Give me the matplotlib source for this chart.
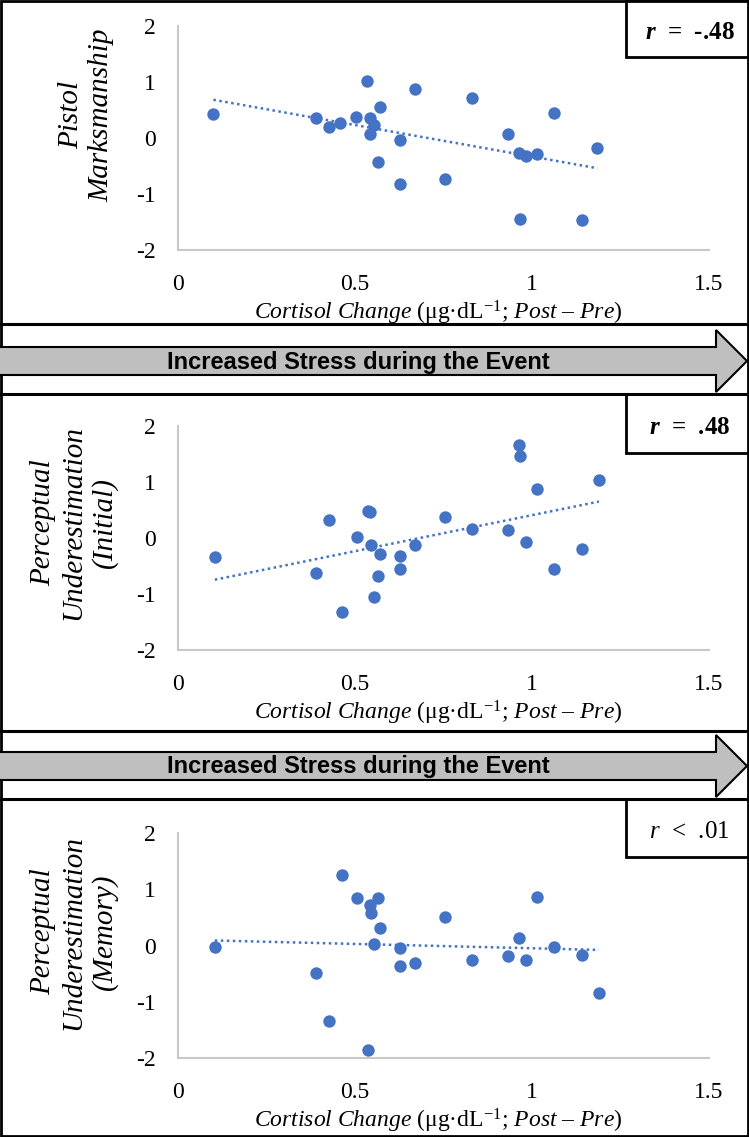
import numpy as np
import matplotlib
matplotlib.use('Agg')
import matplotlib.pyplot as plt
from matplotlib.patches import Polygon, Rectangle

plt.rcParams['font.family'] = ['Liberation Serif', 'DejaVu Serif']
plt.rcParams['mathtext.fontset'] = 'custom'
plt.rcParams['mathtext.rm'] = 'Liberation Serif'
plt.rcParams['mathtext.it'] = 'Liberation Serif:italic'
plt.rcParams['mathtext.bf'] = 'Liberation Serif:bold'
plt.rcParams['mathtext.bfit'] = 'Liberation Serif:italic:bold'
plt.rcParams['axes.unicode_minus'] = False

# DONNEES
x_pistol = [0.10, 0.389, 0.427, 0.459, 0.503, 0.534, 0.543, 0.543, 0.555, 0.570, 0.564, 0.627,
            0.627, 0.670, 0.755, 0.831, 0.932, 0.962, 0.982, 1.015, 0.966, 1.061, 1.141, 1.185]
y_pistol = [0.43, 0.35, 0.20, 0.27, 0.38, 1.02, 0.35, 0.07, 0.24, 0.56, -0.42, -0.03,
            -0.83, 0.875, -0.74, 0.71, 0.07, -0.27, -0.33, -0.28, -1.45, 0.45, -1.46, -0.17]

x_initial = [0.104, 0.389, 0.427, 0.462, 0.505, 0.538, 0.543, 0.546, 0.555, 0.572, 0.566, 0.627,
             0.627, 0.670, 0.755, 0.831, 0.932, 0.964, 0.966, 0.984, 1.015, 1.061, 1.141, 1.189]
y_initial = [-0.34, -0.62, 0.32, -1.33, 0.01, 0.48, 0.46, -0.13, -1.06, -0.28, -0.67, -0.32,
             -0.55, -0.12, 0.38, 0.16, 0.14, 1.66, 1.46, -0.08, 0.88, -0.55, -0.20, 1.04]

x_memory = [0.104, 0.389, 0.427, 0.462, 0.505, 0.538, 0.542, 0.546, 0.555, 0.566, 0.572, 0.627,
            0.627, 0.670, 0.755, 0.831, 0.932, 0.964, 0.984, 1.015, 1.061, 1.141, 1.189]
y_memory = [-0.02, -0.48, -1.35, 1.25, 0.84, -1.86, 0.72, 0.57, 0.03, 0.85, 0.32, -0.05,
            -0.36, -0.31, 0.51, -0.25, -0.18, 0.13, -0.25, 0.87, -0.02, -0.16, -0.85]

ylabels = ['Pistol\nMarksmanship', 'Perceptual\nUnderestimation\n(Initial)',
           'Perceptual\nUnderestimation\n(Memory)']
r_texts = [r'$\mathbfit{r}$  =  -.48', r'$\mathbfit{r}$  =  .48', r'$\mathit{r}$  <  .01']
r_bold = [True, True, False]

xticks = [0, 0.5, 1, 1.5]
yticks = [-2, -1, 0, 1, 2]
bande_txt = 'Increased Stress during the Event'

W, H = 749, 1137
fig = plt.figure(figsize=(W / 100, H / 100), dpi=100)

# fond : cadres et fleches, en pixels
bg = fig.add_axes([0, 0, 1, 1], zorder=0)
bg.set_xlim(0, W)
bg.set_ylim(H, 0)
bg.axis('off')

bleu = '#4472C4'
gris = '#bfbfbf'

# cadres des panneaux et bandes
bg.add_patch(Rectangle((1, 1), W - 2, H - 2, fill=False, ec='black', lw=2))
for yy in [324, 394, 731, 799]:
    bg.plot([0, W], [yy, yy], color='black', lw=2.2)

# fleches "Increased Stress"
for y0 in [330, 735]:
    pts = [(-5, y0 + 17), (716, y0 + 17), (716, y0), (747, y0 + 31), (716, y0 + 62),
           (716, y0 + 45), (-5, y0 + 45)]
    bg.add_patch(Polygon(pts, closed=True, fc=gris, ec='black', lw=1.5))
    bg.text(358, y0 + 32, bande_txt, ha='center', va='center', fontsize=17, fontweight='bold',
            family=['Liberation Sans', 'DejaVu Sans'])

# boites r
boites = [(626, 0, 57), (626, 394, 59), (626, 799, 58)]
lab_centres = [(86, 115), (74, 523), (74, 932)]

# positions des axes (pixels)
axes_px = [(26, 250), (426, 650), (833, 1058)]
donnees = [(x_pistol, y_pistol), (x_initial, y_initial), (x_memory, y_memory)]

for i in range(3):
    top, bot = axes_px[i]
    ax = fig.add_axes([178 / W, 1 - bot / H, 531 / W, (bot - top) / H], zorder=2)
    ax.patch.set_alpha(0)
    x, y = donnees[i]
    ax.scatter(x, y, s=80, color=bleu, zorder=3, linewidths=0)
    a, b = np.polyfit(x, y, 1)
    xx = np.array([min(x), max(x)])
    ax.plot(xx, a * xx + b, color=bleu, lw=1.8, linestyle=(0, (1, 1.4)), zorder=2)

    ax.set_xlim(0, 1.5)
    ax.set_ylim(-2, 2)
    ax.set_xticks(xticks)
    ax.set_xticklabels(['0', '0.5', '1', '1.5'])
    ax.set_yticks(yticks)
    ax.tick_params(length=0, labelsize=17)
    ax.tick_params(axis='x', pad=17)
    ax.tick_params(axis='y', pad=16)
    for s in ['top', 'right']:
        ax.spines[s].set_visible(False)
    for s in ['left', 'bottom']:
        ax.spines[s].set_color('#c8c8c8')
        ax.spines[s].set_linewidth(1.5)

    # titre axe x
    bg.text(438, bot + 63, r'$\mathit{Cortisol\ Change}$ (μg·dL$^{-1}$; $\mathit{Post}$ – $\mathit{Pre}$)',
            ha='center', va='center', fontsize=17)

    # titre axe y
    cx, cy = lab_centres[i]
    bg.text(cx, cy, ylabels[i], rotation=90, ha='center', va='center', fontsize=21,
            style='italic', multialignment='center', linespacing=1.2)

    # boite r
    bx, by, bh = boites[i]
    bg.add_patch(Rectangle((bx, by), W - bx, bh, fill=False, ec='black', lw=2))
    bg.text(bx + (W - bx) / 2 + 2, by + bh / 2 + 4, r_texts[i], ha='center', va='center',
            fontsize=18, fontweight='bold' if r_bold[i] else 'normal')

fig.savefig('out.png', dpi=100)
